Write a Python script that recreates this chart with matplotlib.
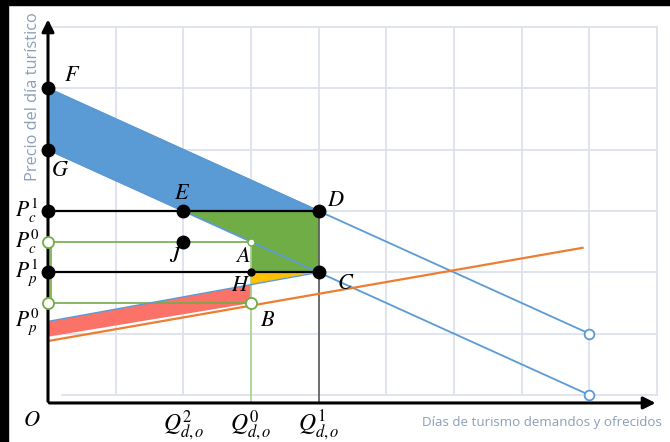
'''Mercado del turismo: demanda, oferta e impuesto'''

import matplotlib.pyplot as plt
from matplotlib.patches import Polygon, Rectangle

plt.rcParams['mathtext.fontset'] = 'stix'

# curvas (x, y)
demand1_x = [0, 8]
demand1_y = [5, 1]
demand0_x = [0, 8]
demand0_y = [4, 0]
supply_x = [0, 7.9]
supply_y = [0.88, 2.4]
supply_tax_x = [0, 4]
supply_tax_y = [1.2, 2]

# cantidades y precios
q_vals = [2, 3, 4]
q_labels = [r'$Q_{d,o}^{2}$', r'$Q_{d,o}^{0}$', r'$Q_{d,o}^{1}$']
p_vals = [3, 2.5, 2, 1.2]
p_labels = [r'$P_c^1$', r'$P_c^0$', r'$P_p^1$', r'$P_p^0$']

# puntos con nombre
point_names = ['F', 'G', 'E', 'D', 'J', 'A', 'H', 'C', 'B']
point_x = [0, 0, 2, 4, 2, 3, 3, 4, 3]
point_y = [5, 4, 3, 3, 2.5, 2.5, 2, 2, 1.5]
P = dict(zip(point_names, zip(point_x, point_y)))

# areas
blue_area = [P['F'], P['D'], P['E'], P['G']]
green_area = [P['E'], P['D'], P['C'], P['H'], P['A']]
yellow_area = [P['H'], (3.93, 2), (3, 1.8)]
red_area = [(0, 0.95), P['B'], (3, 1.8), (0, 1.2)]

BLUE = '#5B9BD5'
GRID = '#DCE2EE'
LABEL = '#8C9FBA'

fig = plt.figure(figsize=(6.7, 4.42), dpi=100)
ax = fig.add_axes([0, 0, 1, 1])
ax.set_xlim(-48 / 67.67, (670 - 48) / 67.67)
ax.set_ylim(-(442 - 395) / 61.33, 395 / 61.33)
ax.axis('off')

# marco negro arriba y a la izquierda
fig.add_artist(Rectangle((0, 1 - 5 / 442), 1, 5 / 442, transform=fig.transFigure, color='black'))
fig.add_artist(Rectangle((0, 0), 8 / 670, 1, transform=fig.transFigure, color='black'))

# rejilla
for gx in range(1, 10):
    ax.plot([gx, gx], [0, 6], color=GRID, lw=1.3, zorder=0)
for gy in range(1, 7):
    ax.plot([0.07, 9], [gy, gy], color=GRID, lw=1.3, zorder=0)
ax.plot([0.2, 9], [0, 0], color=GRID, lw=1.3, zorder=0)

# areas
ax.add_patch(Polygon(blue_area, closed=True, facecolor=BLUE, edgecolor='#4A86C0', lw=1, zorder=2))
ax.add_patch(Polygon(green_area, closed=True, facecolor='#70AD47', edgecolor='none', zorder=2))
ax.add_patch(Polygon(yellow_area, closed=True, facecolor='#FFC000', edgecolor='none', zorder=2))
ax.add_patch(Polygon(red_area, closed=True, facecolor='#FA7268', edgecolor='none', zorder=2))

# lineas auxiliares
ax.plot([0, q_vals[2]], [p_vals[0], p_vals[0]], color='black', lw=1.6, zorder=3)
ax.plot([0, q_vals[2]], [p_vals[2], p_vals[2]], color='black', lw=1.6, zorder=3)
ax.plot([0, q_vals[1]], [p_vals[1], p_vals[1]], color='#70AD47', lw=1.2, zorder=3)
ax.plot([0, q_vals[1]], [P['B'][1], P['B'][1]], color='#70AD47', lw=1.2, zorder=3)
ax.plot([0.05, 0.05], [P['B'][1], p_vals[1]], color='#70AD47', lw=1.2, zorder=3)
ax.plot([q_vals[1], q_vals[1]], [-0.13, p_vals[1]], color='#A9D18E', lw=1.2, zorder=3)
ax.plot([q_vals[2], q_vals[2]], [-0.13, p_vals[0]], color='#595959', lw=1.2, zorder=3)

# curvas
ax.plot(demand1_x, demand1_y, color=BLUE, lw=1.3, zorder=4)
ax.plot(demand0_x, demand0_y, color=BLUE, lw=1.3, zorder=4)
ax.plot(supply_x, supply_y, color='#ED7D31', lw=1.6, zorder=4)
ax.plot(supply_tax_x, supply_tax_y, color=BLUE, lw=1, zorder=4)
ax.plot([demand1_x[1], demand0_x[1]], [demand1_y[1], demand0_y[1]], ls='none', marker='o',
        ms=7, mfc='white', mec=BLUE, mew=1.3, zorder=5)

# ejes con flecha
ax.annotate('', xy=(0, 6.17), xytext=(0, -0.15),
            arrowprops=dict(arrowstyle='-|>', color='black', lw=2.2, mutation_scale=18), zorder=6)
ax.annotate('', xy=(9.02, -0.13), xytext=(-0.02, -0.13),
            arrowprops=dict(arrowstyle='-|>', color='black', lw=2.2, mutation_scale=18), zorder=6)

# puntos
solid = ['F', 'G', 'E', 'D', 'J', 'C']
ax.plot([P[n][0] for n in solid], [P[n][1] for n in solid], 'o', color='black', ms=9, zorder=7)
ax.plot([0, 0], [p_vals[0], p_vals[2]], 'o', color='black', ms=9, zorder=7)
ax.plot([P['H'][0]], [P['H'][1]], 'o', color='black', ms=5, zorder=7)
ax.plot([0, 0, P['B'][0]], [p_vals[1], P['B'][1], P['B'][1]], 'o', ms=8, mfc='white',
        mec='#70AD47', mew=1.3, zorder=7)
ax.plot([P['A'][0]], [P['A'][1]], 'o', ms=5, mfc='white', mec='#70AD47', mew=1, zorder=7)

# nombres de puntos
label_pos = {'F': (0.35, 5.22), 'G': (0.18, 3.67), 'E': (1.98, 3.29), 'D': (4.26, 3.18),
             'J': (1.89, 2.27), 'A': (2.88, 2.27), 'H': (2.85, 1.79), 'C': (4.40, 1.83),
             'B': (3.24, 1.22)}
for n, (lx, ly) in label_pos.items():
    ax.text(lx, ly, '$' + n + '$', fontsize=16, ha='center', va='center', zorder=8)
ax.text(-0.24, -0.41, '$O$', fontsize=16, ha='center', va='center')

for pv, pl in zip(p_vals, p_labels):
    ax.text(-0.31, pv, pl, fontsize=15.5, ha='center', va='center')
for qv, ql in zip(q_vals, q_labels):
    ax.text(qv, -0.5, ql, fontsize=17, ha='center', va='center')

# titulos de ejes
ax.text(-0.22, 6.24, 'Precio del día turístico', rotation=90, ha='center', va='top',
        fontsize=11.8, color=LABEL, family='Open Sans')
ax.text(5.52, -0.45, 'Días de turismo demandos y ofrecidos', ha='left', va='center',
        fontsize=9.6, color=LABEL, family='Open Sans')

plt.savefig('out.png', dpi=100)
